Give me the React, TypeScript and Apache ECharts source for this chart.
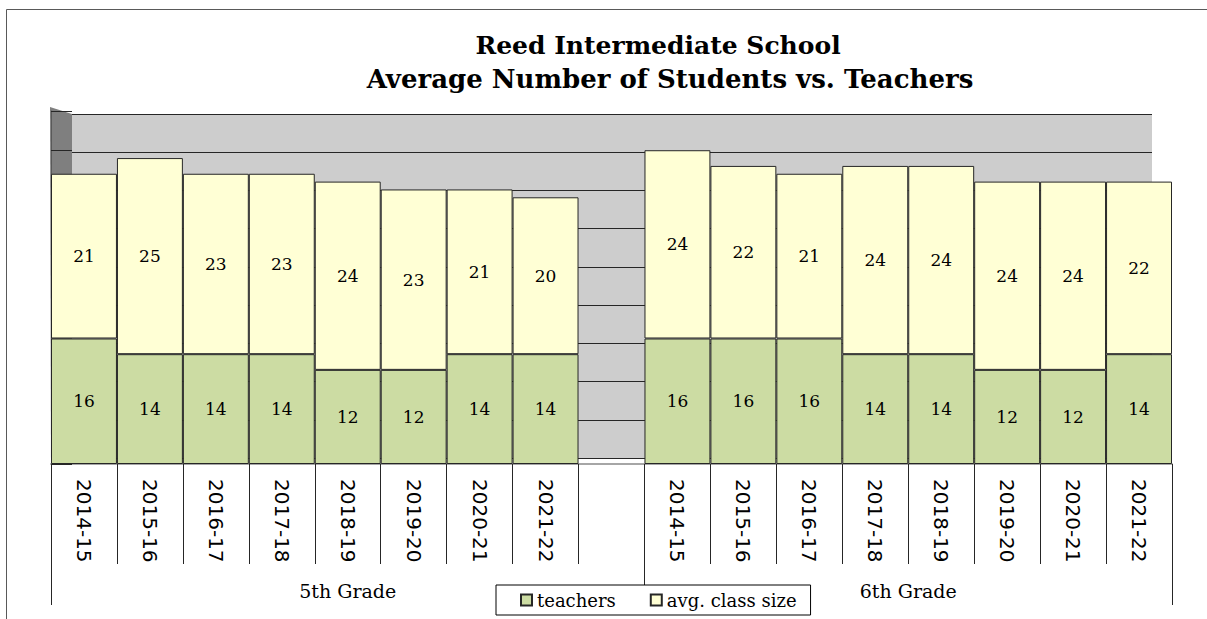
import React, { useEffect, useRef } from 'react';
import * as echarts from 'echarts';

const years = ['2014-15', '2015-16', '2016-17', '2017-18', '2018-19', '2019-20', '2020-21', '2021-22'];
const grades = ['5th Grade', '6th Grade'];
const teachers5 = [16, 14, 14, 14, 12, 12, 14, 14];
const classSize5 = [21, 25, 23, 23, 24, 23, 21, 20];
const teachers6 = [16, 16, 16, 14, 14, 12, 12, 14];
const classSize6 = [24, 22, 21, 24, 24, 24, 24, 22];
const seriesNames = ['teachers', 'avg. class size'];
const titleLines = ['Reed Intermediate School', 'Average Number of Students vs. Teachers'];
const yMax = 45;
const yStep = 5;

// category slots: 5th grade years, one empty slot, 6th grade years
const categories = [
  ...years.map((y) => `${grades[0]}|${y}`),
  `${grades[0]}|`,
  ...years.map((y) => `${grades[1]}|${y}`),
];
const teachersAll = [...teachers5, '-', ...teachers6];
const classAll = [...classSize5, '-', ...classSize6];

// group axis on half-slot positions
const groupSpans = [years.length + 1, years.length];
const nHalf = categories.length * 2 + 1;
const groupSlots: string[] = new Array(nHalf).fill('');
const groupBounds: number[] = [0];
const groupLabelIdx: number[] = [];
{
  let start = 0;
  groupSpans.forEach((span, i) => {
    const idx = start * 2 + span;
    groupSlots[idx] = grades[i];
    groupLabelIdx.push(idx);
    start += span;
    groupBounds.push(start * 2);
  });
}
const groupKeys = groupSlots.map((_, i) => `g${i}`);

const GREEN = '#ccdca3';
const YELLOW = '#ffffd5';
const EDGE = '#262626';

export default function App() {
  const ref = useRef<HTMLDivElement>(null);
  useEffect(() => {
    if (!ref.current) return;
    const chart = echarts.init(ref.current, null, { renderer: 'svg' });
    const barLabel = {
      show: true,
      position: 'inside',
      color: '#000',
      fontFamily: 'DejaVu Serif',
      fontSize: 17,
    };
    const option: any = {
      animation: false,
      backgroundColor: '#ffffff',
      graphic: [
        {
          type: 'polyline',
          z: -10,
          silent: true,
          shape: { points: [[6.5, 619], [6.5, 9.5], [1207, 9.5]] },
          style: { fill: 'none', stroke: '#595959', lineWidth: 1 },
        },
        {
          type: 'polygon',
          z: -1,
          silent: true,
          shape: { points: [[50, 107], [72, 114], [72, 458], [51, 464]] },
          style: { fill: '#7f7f7f' },
        },
        {
          type: 'text',
          x: 658,
          y: 45,
          style: {
            text: titleLines[0],
            font: 'bold 25px "DejaVu Serif"',
            fill: '#000',
            align: 'center',
            verticalAlign: 'middle',
          },
        },
        {
          type: 'text',
          x: 670,
          y: 79,
          style: {
            text: titleLines[1],
            font: 'bold 26px "DejaVu Serif"',
            fill: '#000',
            align: 'center',
            verticalAlign: 'middle',
          },
        },
      ],
      legend: {
        data: seriesNames,
        left: 496,
        top: 585,
        padding: [6, 14, 6, 24],
        itemGap: 34,
        itemWidth: 11,
        itemHeight: 11,
        icon: 'rect',
        borderColor: '#000',
        borderWidth: 1,
        backgroundColor: '#fff',
        textStyle: { fontFamily: 'DejaVu Serif', fontSize: 18, color: '#000' },
      },
      grid: [
        { left: 72, right: 55, top: 114, bottom: 161, show: true, backgroundColor: '#cdcdcd', borderWidth: 0 },
        { left: 51, right: 35, top: 111, bottom: 155 },
      ],
      xAxis: [
        { gridIndex: 0, type: 'value', show: false, min: 0, max: 1 },
        {
          gridIndex: 1,
          type: 'category',
          position: 'bottom',
          data: categories,
          axisLine: { show: true, lineStyle: { color: '#a6a6a6', width: 2 } },
          axisTick: { show: true, interval: 0, length: 100, lineStyle: { color: EDGE } },
          axisLabel: {
            interval: 0,
            rotate: -90,
            margin: 15,
            fontFamily: 'DejaVu Sans',
            fontSize: 20,
            color: '#000',
            formatter: (v: string) => v.split('|')[1],
          },
          splitLine: { show: false },
        },
        {
          gridIndex: 1,
          type: 'category',
          position: 'bottom',
          boundaryGap: false,
          data: groupKeys,
          axisLine: { show: false },
          axisTick: {
            show: true,
            interval: (i: number) => groupBounds.includes(i),
            length: 141,
            lineStyle: { color: EDGE },
          },
          axisLabel: {
            interval: (i: number) => groupLabelIdx.includes(i),
            margin: 117,
            fontFamily: 'DejaVu Serif',
            fontSize: 19,
            color: '#000',
            formatter: (v: string) => groupSlots[Number(v.slice(1))],
          },
          splitLine: { show: false },
        },
      ],
      yAxis: [
        {
          gridIndex: 0,
          type: 'value',
          min: 0,
          max: yMax,
          interval: yStep,
          axisLine: { show: false },
          axisTick: { show: false },
          axisLabel: { show: false },
          splitLine: { show: true, lineStyle: { color: EDGE, width: 1 } },
        },
        {
          gridIndex: 1,
          type: 'value',
          min: 0,
          max: yMax,
          interval: yStep,
          axisLine: { show: true, lineStyle: { color: '#595959' } },
          axisTick: { show: true, inside: true, length: 21, lineStyle: { color: EDGE } },
          axisLabel: { show: false },
          splitLine: { show: false },
        },
      ],
      series: [
        {
          name: seriesNames[0],
          type: 'bar',
          xAxisIndex: 1,
          yAxisIndex: 1,
          stack: 'total',
          barCategoryGap: '0%',
          data: teachersAll,
          itemStyle: { color: GREEN, borderColor: EDGE, borderWidth: 1 },
          label: barLabel,
        },
        {
          name: seriesNames[1],
          type: 'bar',
          xAxisIndex: 1,
          yAxisIndex: 1,
          stack: 'total',
          barCategoryGap: '0%',
          data: classAll,
          itemStyle: { color: YELLOW, borderColor: EDGE, borderWidth: 1 },
          label: barLabel,
        },
      ],
    };
    chart.setOption(option);
    return () => chart.dispose();
  }, []);
  return <div ref={ref} style={{ position: 'fixed', left: 0, top: 0, width: 1207, height: 619 }} />;
}
